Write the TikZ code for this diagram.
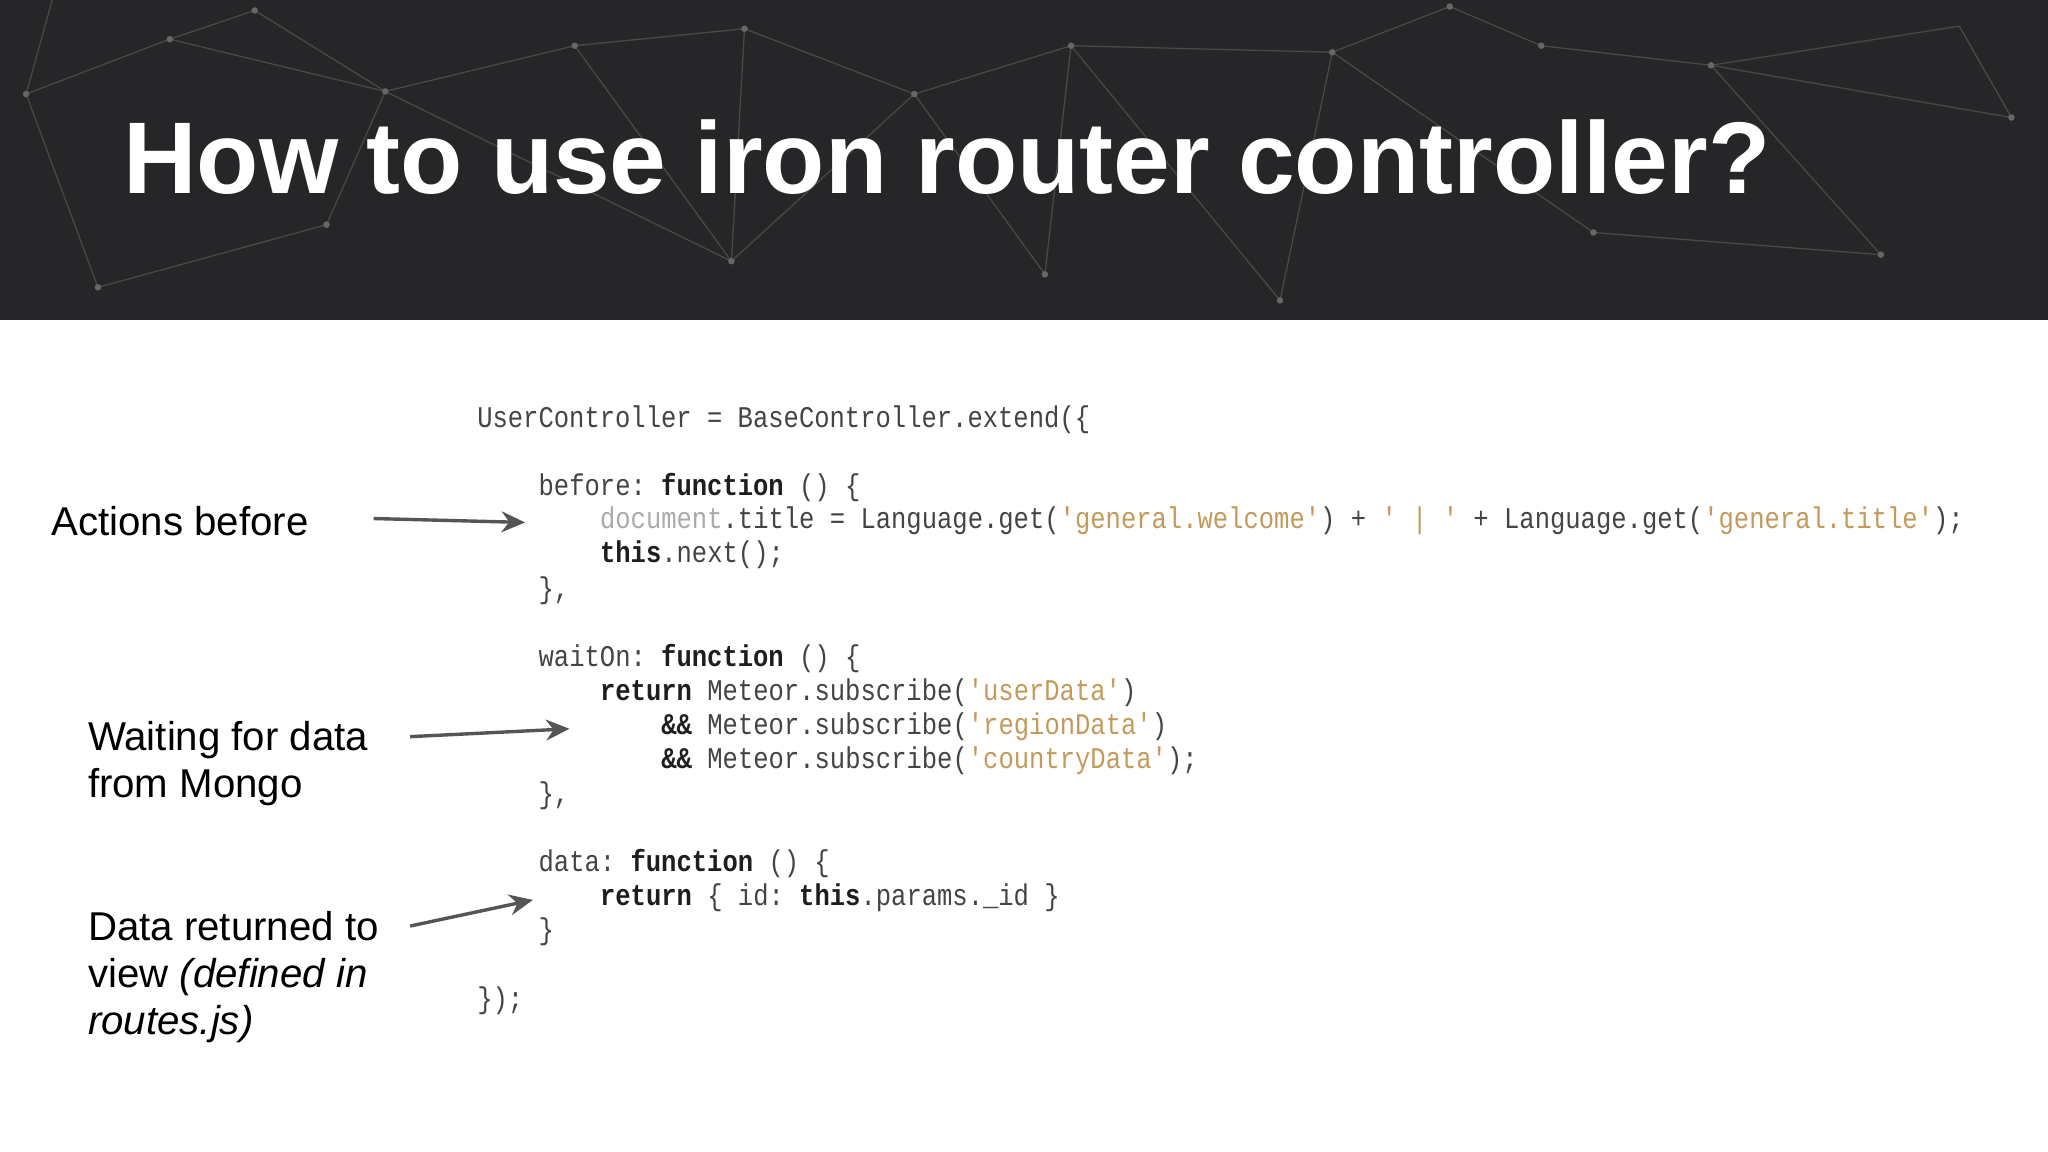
\documentclass[tikz,border=0pt]{standalone}
\usepackage{fontspec}
\setmainfont{Liberation Sans}
\setmonofont[FakeStretch=0.85]{Liberation Mono}
\usetikzlibrary{arrows.meta}
\definecolor{band}{HTML}{262527}
\definecolor{codec}{HTML}{444444}
\definecolor{kwc}{HTML}{1E1E1E}
\definecolor{strc}{HTML}{C49A5C}
\definecolor{docc}{HTML}{AAAAAA}
\definecolor{arr}{HTML}{555555}
\newcommand{\kw}[1]{\textbf{\color{kwc}#1}}
\newcommand{\stx}[1]{{\color{strc}'#1'}}
\newcommand{\dcx}[1]{{\color{docc}#1}}
\tikzset{
  code/.style={anchor=base west,inner sep=0pt,font=\ttfamily\fontsize{11.5}{13}\selectfont,text=codec},
  lbl/.style={anchor=base west,inner sep=0pt,font=\fontsize{15.4}{18}\selectfont,text=black,align=left},
  pt/.style={arr,line width=1.3pt,-{Stealth[length=9pt,width=8pt]}},
  web/.style={white!16!band,line width=0.5pt}
}
\begin{document}
\begin{tikzpicture}[x=0.5pt,y=-0.5pt]
\useasboundingbox (0,0) rectangle (1568,882);
\fill[white] (0,0) rectangle (1568,882);
\fill[band] (0,0) rectangle (1568,245);
\begin{scope}
\clip (0,0) rectangle (1568,245);
\foreach \a/\b in {20/72,130/30,195/8,295/70,250/172,75/220,440/35,570/22,700/72,820/35,1020/40,1110/5,1180/35,1310/50,1440/195,1540/90,1220/178,980/230,800/210,560/200,40/0,1500/20}{\coordinate (p\a) at (\a,\b);}
\foreach \u/\v in {20/130,130/195,130/295,20/75,75/250,250/295,295/440,440/570,570/700,700/820,820/1020,1020/1110,1110/1180,1180/1310,1310/1540,1310/1440,1220/1020,1220/1440,980/1020,980/820,800/700,800/820,560/570,560/440,295/560,40/20,1500/1540,1500/1310,195/295,700/560}{\draw[web] (p\u) -- (p\v);}
\foreach \a in {20,130,195,295,250,75,440,570,700,820,1020,1110,1180,1310,1440,1540,1220,980,800,560}{\fill[white!30!band] (p\a) circle (2.5);}
\end{scope}
\node[anchor=base west,inner sep=0pt,text=white,font=\fontsize{39}{44}\selectfont\bfseries] (title) at (94,148) {How to use iron router controller?};

\node[code] (c1) at (365,327) {UserController = BaseController.extend(\{};
\node[code] (c2) at (412,379) {before: \kw{function} () \{};
\node[code] (c3) at (459,405) {\dcx{document}.title = Language.get(\stx{general.welcome}) + \stx{ | } + Language.get(\stx{general.title});};
\node[code] (c4) at (459,431) {\kw{this}.next();};
\node[code] (c5) at (412,458) {\},};
\node[code] (c6) at (412,510) {waitOn: \kw{function} () \{};
\node[code] (c7) at (459,536) {\kw{return} Meteor.subscribe(\stx{userData})};
\node[code] (c8) at (506,562) {\kw{\&\&} Meteor.subscribe(\stx{regionData})};
\node[code] (c9) at (506,588) {\kw{\&\&} Meteor.subscribe(\stx{countryData});};
\node[code] (c10) at (412,615) {\},};
\node[code] (c11) at (412,667) {data: \kw{function} () \{};
\node[code] (c12) at (459,693) {\kw{return} \{ id: \kw{this}.params.\_id \}};
\node[code] (c13) at (412,719) {\}};
\node[code] (c14) at (365,772) {\});};

\node[lbl] (l1) at (39,410) {Actions before};
\node[lbl,anchor=north west] (l2) at (67,552) {Waiting for data\\from Mongo};
\node[lbl,anchor=north west] (l3) at (67,697) {Data returned to\\view \textit{(defined in}\\\textit{routes.js)}};

\coordinate (a1s) at (286,397); \coordinate (a1e) at (402,400);
\coordinate (a2s) at (314,564); \coordinate (a2e) at (436,558);
\coordinate (a3s) at (314,709); \coordinate (a3e) at (408,689);
\draw[pt] (a1s) -- (a1e);
\draw[pt] (a2s) -- (a2e);
\draw[pt] (a3s) -- (a3e);
\end{tikzpicture}
\end{document}
